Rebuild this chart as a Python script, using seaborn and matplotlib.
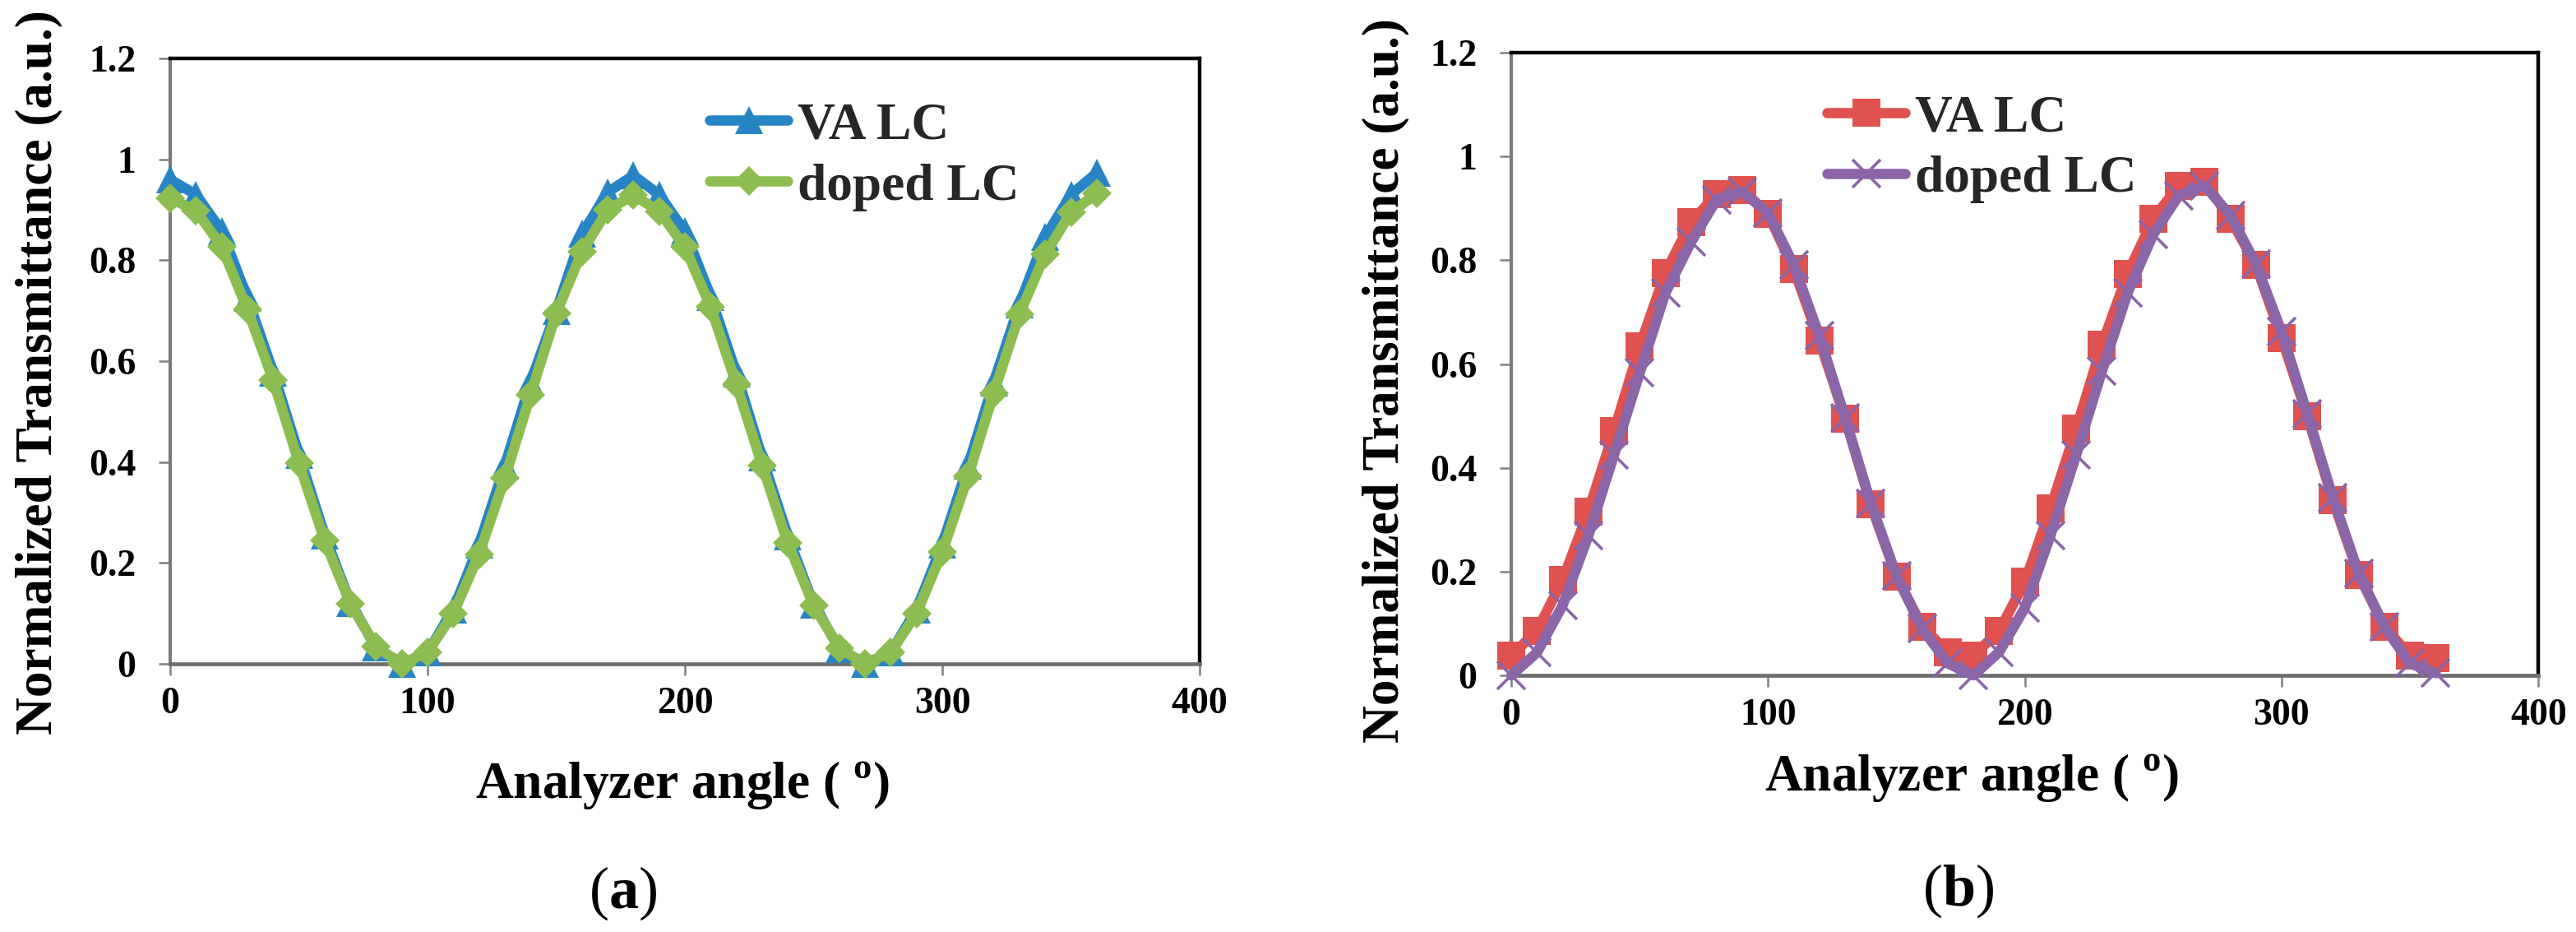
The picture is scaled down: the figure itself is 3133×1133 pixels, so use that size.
import matplotlib
matplotlib.use("Agg")
import matplotlib.pyplot as plt
import seaborn as sns
from matplotlib.ticker import FuncFormatter

sns.set_style("white")
plt.rcParams['font.family'] = ['Liberation Serif', 'DejaVu Serif']
plt.rcParams['font.weight'] = 'bold'
plt.rcParams['mathtext.fontset'] = 'custom'
plt.rcParams['mathtext.rm'] = 'Liberation Serif:bold'
plt.rcParams['mathtext.bf'] = 'Liberation Serif:bold'

# analyzer angle (deg)
angle = [0, 10, 20, 30, 40, 50, 60, 70, 80, 90, 100, 110, 120, 130, 140, 150, 160, 170, 180,
         190, 200, 210, 220, 230, 240, 250, 260, 270, 280, 290, 300, 310, 320, 330, 340, 350, 360]

# (a)
va_a = [0.96, 0.93, 0.858, 0.725, 0.578, 0.415, 0.255, 0.121, 0.032, 0.0, 0.023, 0.108, 0.236,
        0.393, 0.558, 0.70, 0.852, 0.935, 0.968, 0.93, 0.857, 0.728, 0.575, 0.409, 0.253, 0.118,
        0.03, 0.0, 0.023, 0.108, 0.237, 0.393, 0.558, 0.713, 0.846, 0.93, 0.973]
doped_a = [0.923, 0.898, 0.827, 0.702, 0.562, 0.398, 0.244, 0.119, 0.034, 0.0, 0.023, 0.10, 0.217,
           0.368, 0.533, 0.695, 0.817, 0.90, 0.929, 0.897, 0.826, 0.707, 0.554, 0.393, 0.239, 0.116,
           0.031, 0.0, 0.023, 0.10, 0.222, 0.371, 0.537, 0.693, 0.812, 0.895, 0.932]

# (b)
va_b = [0.038, 0.086, 0.184, 0.316, 0.471, 0.634, 0.776, 0.874, 0.927, 0.936, 0.889, 0.783, 0.645,
        0.495, 0.329, 0.191, 0.094, 0.045, 0.038, 0.086, 0.18, 0.322, 0.475, 0.637, 0.774, 0.88,
        0.944, 0.951, 0.88, 0.791, 0.65, 0.5, 0.337, 0.194, 0.094, 0.038, 0.034]
doped_b = [0.0, 0.044, 0.135, 0.269, 0.425, 0.583, 0.737, 0.835, 0.917, 0.932, 0.891, 0.791, 0.654,
           0.496, 0.332, 0.192, 0.09, 0.023, 0.0, 0.045, 0.13, 0.27, 0.425, 0.586, 0.737, 0.85,
           0.925, 0.944, 0.887, 0.793, 0.662, 0.504, 0.342, 0.197, 0.094, 0.023, 0.004]

series_names = ['VA LC', 'doped LC']
x_ticks = [0, 100, 200, 300, 400]
y_ticks = [0, 0.2, 0.4, 0.6, 0.8, 1.0, 1.2]

BLUE = '#2784c5'
GREEN = '#8dbd50'
RED = '#df5250'
PURPLE = '#8a65a8'

fig = plt.figure(figsize=(15.665, 5.665), dpi=200)
ax_a = fig.add_axes([0.0661, 0.2877, 0.3996, 0.6496])
ax_b = fig.add_axes([0.5867, 0.2754, 0.3987, 0.6680])

line_kw = dict(linewidth=4.5, solid_joinstyle='round', solid_capstyle='round', clip_on=False)

sns.lineplot(x=angle, y=va_a, ax=ax_a, color=BLUE, marker='^', markersize=12,
             markeredgewidth=0, markeredgecolor=BLUE, label=series_names[0], zorder=3, **line_kw)
sns.lineplot(x=angle, y=doped_a, ax=ax_a, color=GREEN, marker='D', markersize=9.2,
             markeredgewidth=0, markeredgecolor=GREEN, label=series_names[1], zorder=4, **line_kw)

sns.lineplot(x=angle, y=va_b, ax=ax_b, color=RED, marker='s', markersize=12.5,
             markeredgewidth=0, markeredgecolor=RED, label=series_names[0], zorder=3, **line_kw)
sns.lineplot(x=angle, y=doped_b, ax=ax_b, color=PURPLE, marker='x', markersize=12,
             markeredgewidth=1.3, markeredgecolor=PURPLE, label=series_names[1], zorder=4,
             **line_kw)

for ax in (ax_a, ax_b):
    ax.set_xlim(0, 400)
    ax.set_ylim(0, 1.2)
    ax.set_xticks(x_ticks)
    ax.set_yticks(y_ticks)
    ax.yaxis.set_major_formatter(FuncFormatter(lambda v, p: f'{v:g}'))
    ax.set_xlabel('')
    ax.set_ylabel('')
    ax.tick_params(axis='both', direction='out', length=5, width=0.9, color='#808080',
                   labelsize=16.5, labelcolor='black')
    ax.tick_params(axis='y', pad=10, left=True)
    ax.tick_params(axis='x', pad=5, bottom=True)
    for lab in ax.get_xticklabels() + ax.get_yticklabels():
        lab.set_fontweight('bold')
    ax.spines['top'].set_color('black')
    ax.spines['right'].set_color('black')
    ax.spines['top'].set_linewidth(1.6)
    ax.spines['right'].set_linewidth(1.6)
    ax.spines['left'].set_color('#7a7a7a')
    ax.spines['left'].set_linewidth(1.5)
    ax.spines['bottom'].set_color('#6e6e6e')
    ax.spines['bottom'].set_linewidth(1.7)
    ax.grid(False)

leg_kw = dict(loc='upper left', frameon=False, borderpad=0, borderaxespad=0,
              handlelength=1.5, handletextpad=0.19, labelspacing=0.25, numpoints=1,
              prop={'family': 'Liberation Serif', 'weight': 'bold', 'size': 22.8})
ax_a.legend(bbox_to_anchor=(0.524, 0.928), **leg_kw)
ax_b.legend(bbox_to_anchor=(0.3075, 0.933), **leg_kw)

ylab = 'Normalized Transmittance (a.u.)'
xlab = r'Analyzer angle ( $^{\mathbf{o}}$)'
lab_kw = dict(fontsize=22.8, fontweight='bold', color='black')
fig.text(0.015, 0.601, ylab, rotation=90, ha='center', va='center', **lab_kw)
fig.text(0.538, 0.592, ylab, rotation=90, ha='center', va='center', **lab_kw)
fig.text(0.265, 0.143, xlab, ha='center', va='baseline', **lab_kw)
fig.text(0.7654, 0.151, xlab, ha='center', va='baseline', **lab_kw)

fig.text(0.2417, 0.026, r'($\mathbf{a}$)', ha='center', va='baseline', fontsize=26,
         fontweight='normal', color='black')
fig.text(0.760, 0.029, r'($\mathbf{b}$)', ha='center', va='baseline', fontsize=26,
         fontweight='normal', color='black')

fig.savefig('out.png', dpi=200)
